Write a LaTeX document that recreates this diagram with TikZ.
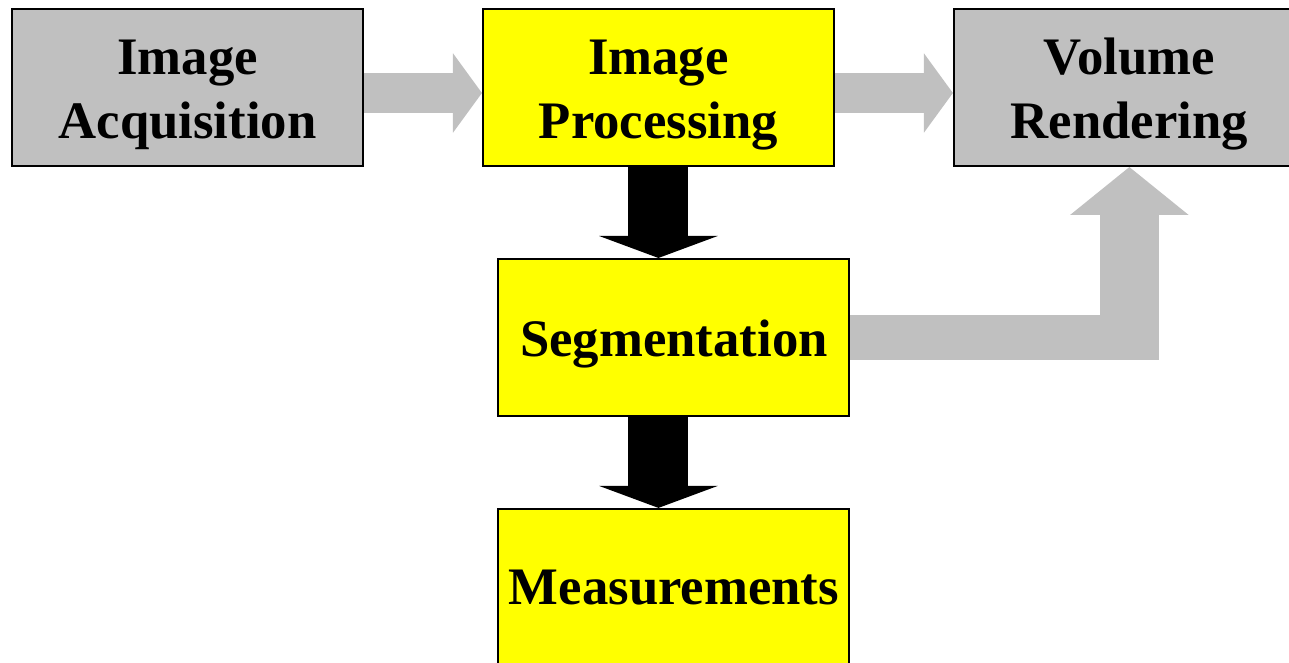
\documentclass[tikz,border=0pt]{standalone}
\usepackage{fontspec}
\setmainfont{Liberation Serif}
\usetikzlibrary{positioning}
\usetikzlibrary{arrows.meta}
\usetikzlibrary{calc}

\definecolor{boxgray}{RGB}{192,192,192}
\definecolor{boxyellow}{RGB}{255,255,0}
\newcommand{\boxstrut}{\rule{0pt}{0.98cm}}

\begin{document}
\begin{tikzpicture}[
		box/.style={draw=black, line width=1.1pt, rectangle, minimum width=7.02cm, minimum height=3.14cm, inner sep=0pt, align=center, font=\fontsize{30}{36.3}\selectfont\bfseries},
		graybox/.style={box, fill=boxgray},
		yellowbox/.style={box, fill=boxyellow},
		grayarrow/.style={draw=boxgray, line width=0.8cm, -{Triangle[length=0.58cm, width=1.56cm]}},
		blackarrow/.style={draw=black, line width=1.2cm, -{Triangle[length=0.44cm, width=2.36cm]}}
	]
		 % Fix the size of the picture
		\useasboundingbox (0,0) rectangle (25.78,-13.24);

		 % Define the boxes
		\node[graybox] (acq) at (3.75,-1.75) {\boxstrut Image\\Acquisition};
		\node[yellowbox, right=2.36cm of acq] (proc) {\boxstrut Image\\Processing};
		\node[graybox, right=2.36cm of proc] (vol) {\boxstrut Volume\\Rendering};
		\node[yellowbox, below=1.82cm of proc, xshift=0.31cm] (seg) {\boxstrut Segmentation};
		\node[yellowbox, below=1.82cm of seg] (meas) {Measurements};

		 % Draw the arrows
		\draw[grayarrow] ([yshift=-0.11cm]acq.east) -- ([yshift=-0.11cm]proc.west);
		\draw[grayarrow] ([yshift=-0.11cm]proc.east) -- ([yshift=-0.11cm]vol.west);
		\draw[blackarrow] (proc.south) -- (proc.south |- seg.north);
		\draw[blackarrow] (proc.south |- seg.south) -- (proc.south |- meas.north);

		 % Bent arrow from segmentation up to rendering
		\coordinate (bend) at (vol.south |- seg.east);
		\draw[draw=boxgray, line width=0.9cm] (seg.east) -- ($(bend)+(0.59,0)$);
		\draw[draw=boxgray, line width=1.18cm, -{Triangle[length=0.96cm, width=2.32cm]}] ($(bend)+(0,-0.45)$) -- (vol.south);
\end{tikzpicture}
\end{document}
